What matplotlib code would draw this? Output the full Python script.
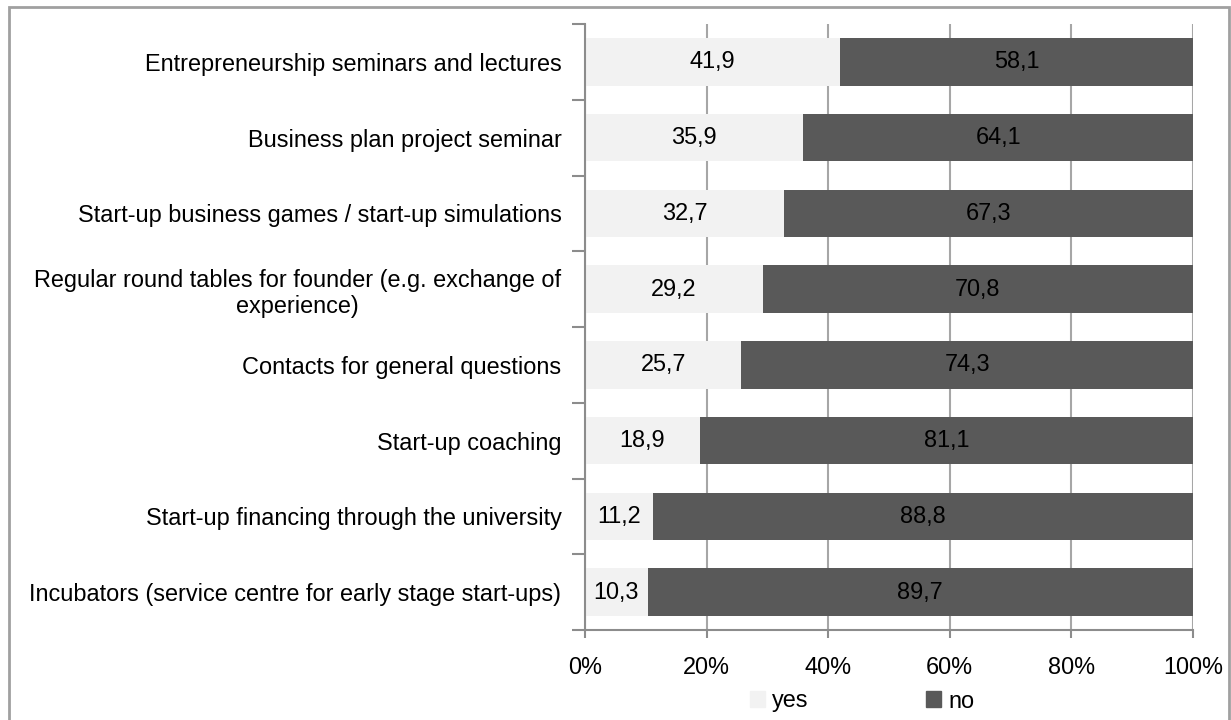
import matplotlib.pyplot as plt
from matplotlib.patches import Rectangle, Patch

plt.rcParams['font.family'] = ['Liberation Sans', 'DejaVu Sans']

categories = [
    "Entrepreneurship seminars and lectures",
    "Business plan project seminar",
    "Start-up business games / start-up simulations",
    "Regular round tables for founder (e.g. exchange of\nexperience)",
    "Contacts for general questions",
    "Start-up coaching",
    "Start-up financing through the university",
    "Incubators (service centre for early stage start-ups)",
]
yes_values = [41.9, 35.9, 32.7, 29.2, 25.7, 18.9, 11.2, 10.3]
no_values = [58.1, 64.1, 67.3, 70.8, 74.3, 81.1, 88.8, 89.7]
x_ticks = [0, 20, 40, 60, 80, 100]
x_tick_labels = ["0%", "20%", "40%", "60%", "80%", "100%"]

YES_COLOR = "#f2f2f2"
NO_COLOR = "#595959"
GRID_COLOR = "#a6a6a6"
AXIS_COLOR = "#8c8c8c"
FS = 16.9

fig = plt.figure(figsize=(12.31, 7.20), dpi=100)
ax = fig.add_axes([585 / 1231, 1 - 630 / 720, 608 / 1231, 606 / 720])

# outer frame around the chart area
fig.patches.append(Rectangle((9 / 1231, -0.01), 1220 / 1231, 1 - 7 / 720 + 0.01,
                             transform=fig.transFigure, fill=False,
                             edgecolor="#a0a0a0", linewidth=2))

y = list(range(len(categories)))
bar_h = 0.63
ax.barh(y, yes_values, height=bar_h, color=YES_COLOR, zorder=2)
ax.barh(y, no_values, left=yes_values, height=bar_h, color=NO_COLOR, zorder=2)

for i in y:
    ax.text(yes_values[i] / 2, i, f"{yes_values[i]:.1f}".replace(".", ","),
            ha="center", va="center", fontsize=FS, color="black", zorder=3)
    ax.text(yes_values[i] + no_values[i] / 2, i, f"{no_values[i]:.1f}".replace(".", ","),
            ha="center", va="center", fontsize=FS, color="black", zorder=3)

ax.set_xlim(0, 100)
ax.set_ylim(len(categories) - 0.5, -0.5)

ax.set_xticks(x_ticks)
ax.set_xticklabels(x_tick_labels, fontsize=FS)
ax.xaxis.grid(True, color=GRID_COLOR, linewidth=1.5, zorder=0)
ax.set_axisbelow(True)
ax.tick_params(axis="x", length=6, width=1.5, color=AXIS_COLOR, pad=13)

# category names in the middle, tick marks on the boundaries
ax.set_yticks(y)
ax.set_yticklabels(categories, fontsize=FS, multialignment="center", linespacing=1.2)
ax.tick_params(axis="y", which="major", length=0, pad=17)
ax.set_yticks([i - 0.5 for i in range(len(categories) + 1)], minor=True)
ax.tick_params(axis="y", which="minor", length=9.5, width=1.5, color=AXIS_COLOR)

for side in ["top", "right"]:
    ax.spines[side].set_visible(False)
for side in ["left", "bottom"]:
    ax.spines[side].set_color(AXIS_COLOR)
    ax.spines[side].set_linewidth(1.5)

handles = [Patch(color=YES_COLOR, label="yes"), Patch(color=NO_COLOR, label="no")]
fig.legend(handles=handles, loc="center", bbox_to_anchor=(862 / 1231, 1 - 701 / 720),
           ncol=2, frameon=False, fontsize=FS, handlelength=0.65, handleheight=0.65,
           handletextpad=0.3, columnspacing=5.0, borderpad=0)

fig.savefig("out.png", dpi=100)
